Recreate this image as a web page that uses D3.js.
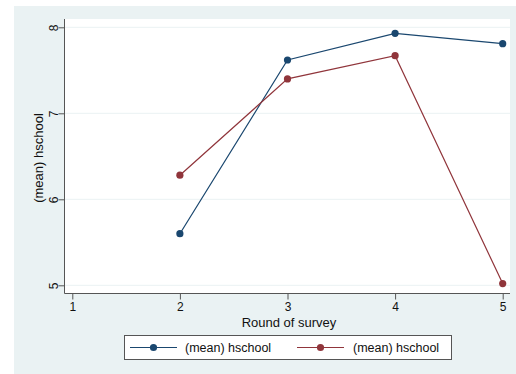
<!DOCTYPE html>
<html>
<head>
<meta charset="utf-8">
<script src="https://cdn.jsdelivr.net/npm/d3@7"></script>
<style>
  html, body { margin: 0; padding: 0; background: #ffffff; }
  svg { display: block; font-family: "Liberation Sans", Arial, Helvetica, sans-serif; }
</style>
</head>
<body>
<svg id="chart" width="516" height="374"></svg>
<script>
// Survey rounds and mean hschool per round for the two groups
const rounds = [2, 3, 4, 5];
const seriesA = [5.60, 7.62, 7.93, 7.81];
const seriesB = [6.28, 7.40, 7.67, 5.02];
const seriesNames = ["(mean) hschool", "(mean) hschool"];
const xTicks = [1, 2, 3, 4, 5];
const yTicks = [5, 6, 7, 8];

const colors = ["#1a476f", "#90353b"];
const bg = "#eaf2f3";

const svg = d3.select("#chart");

// outer graph region
svg.append("rect").attr("x", 14).attr("y", 6).attr("width", 502).attr("height", 368).attr("fill", bg);

// plot region
const plot = { left: 64.5, right: 510, top: 19, bottom: 293.5 };
svg.append("rect")
  .attr("x", plot.left).attr("y", plot.top)
  .attr("width", plot.right - plot.left).attr("height", plot.bottom - plot.top)
  .attr("fill", "#ffffff");

const x = d3.scaleLinear().domain([1, 5]).range([72.3, 502.7]);
const y = d3.scaleLinear().domain([5, 8]).range([285.3, 27.3]);

// horizontal gridlines
svg.append("g").selectAll("line").data(yTicks).join("line")
  .attr("x1", plot.left).attr("x2", plot.right)
  .attr("y1", d => y(d)).attr("y2", d => y(d))
  .attr("stroke", bg).attr("stroke-width", 1);

// y axis
const yAxis = svg.append("g")
  .attr("transform", `translate(${plot.left},0)`)
  .call(d3.axisLeft(y).tickValues(yTicks).tickSize(6).tickPadding(4).tickFormat(d3.format("d")));
yAxis.select(".domain").attr("d", `M0,${plot.top}V${plot.bottom}`).attr("stroke", "#555");
yAxis.selectAll(".tick line").attr("stroke", "#555");
yAxis.selectAll(".tick text")
  .attr("font-size", 12).attr("fill", "#111")
  .attr("x", null).attr("dy", null)
  .attr("text-anchor", "middle")
  .attr("transform", "translate(-11,0) rotate(-90)")
  .attr("dy", "0.35em");

// x axis
const xAxis = svg.append("g")
  .attr("transform", `translate(0,${plot.bottom})`)
  .call(d3.axisBottom(x).tickValues(xTicks).tickSize(6).tickPadding(3).tickFormat(d3.format("d")));
xAxis.select(".domain").attr("d", `M${plot.left},0H${plot.right}`).attr("stroke", "#555");
xAxis.selectAll(".tick line").attr("stroke", "#555");
xAxis.selectAll(".tick text").attr("font-size", 12).attr("fill", "#111");

// axis titles
svg.append("text")
  .attr("transform", `translate(38,158) rotate(-90)`)
  .attr("text-anchor", "middle").attr("dy", "0.35em")
  .attr("font-size", 13).attr("fill", "#111")
  .text("(mean) hschool");
svg.append("text")
  .attr("x", 289).attr("y", 322).attr("dy", "0.35em")
  .attr("text-anchor", "middle")
  .attr("font-size", 13).attr("fill", "#111")
  .text("Round of survey");

// series lines and markers
const line = d3.line().x(d => x(d[0])).y(d => y(d[1]));
[seriesA, seriesB].forEach((vals, i) => {
  const pts = rounds.map((r, j) => [r, vals[j]]);
  const g = svg.append("g");
  g.append("path").attr("d", line(pts)).attr("fill", "none")
    .attr("stroke", colors[i]).attr("stroke-width", 1.2);
  g.selectAll("circle").data(pts).join("circle")
    .attr("cx", d => x(d[0])).attr("cy", d => y(d[1])).attr("r", 3.6)
    .attr("fill", colors[i]);
});

// legend
const legend = svg.append("g");
legend.append("rect").attr("x", 124.5).attr("y", 335.5).attr("width", 327).attr("height", 24)
  .attr("fill", "#ffffff").attr("stroke", "#555").attr("stroke-width", 1);
const legendItems = [
  { x0: 130, x1: 177, tx: 185 },
  { x0: 297, x1: 344, tx: 353 }
];
legendItems.forEach((it, i) => {
  legend.append("line").attr("x1", it.x0).attr("x2", it.x1).attr("y1", 347.5).attr("y2", 347.5)
    .attr("stroke", colors[i]).attr("stroke-width", 1.2);
  legend.append("circle").attr("cx", (it.x0 + it.x1) / 2).attr("cy", 347.5).attr("r", 3.6).attr("fill", colors[i]);
  legend.append("text").attr("x", it.tx).attr("y", 347.5).attr("dy", "0.35em")
    .attr("font-size", 12.5).attr("fill", "#111").text(seriesNames[i]);
});
</script>
</body>
</html>
